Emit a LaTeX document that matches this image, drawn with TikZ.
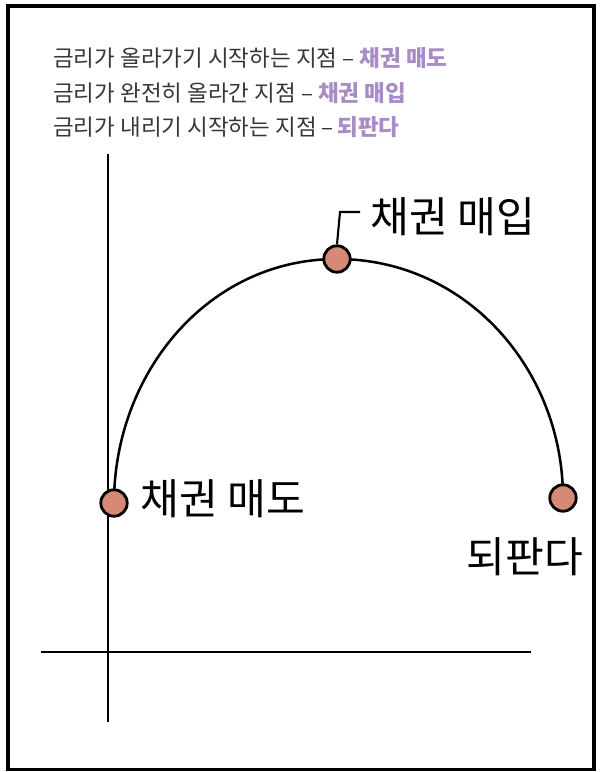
\documentclass[tikz,border=0pt]{standalone}
\usepackage{fontspec}
\usepackage{tikz}
\usetikzlibrary{positioning}
\newfontfamily\kr{Noto Sans CJK KR}
\definecolor{inkgray}{RGB}{55,55,55}
\definecolor{lavender}{RGB}{168,140,198}
\definecolor{salmon}{RGB}{214,138,118}
\newcommand{\hl}[1]{{\color{lavender}\bfseries #1}}
\tikzset{
  frame/.style={draw=black,line width=2.6pt},
  axis/.style={draw=black,line width=1.8pt},
  curve/.style={draw=black,line width=1.8pt},
  leader/.style={draw=black,line width=1.5pt},
  dot/.style={circle,draw=black,line width=2pt,fill=salmon,minimum size=6.6mm,inner sep=0pt},
  hand/.style={font=\kr\fontsize{30}{33}\selectfont,inner sep=0pt},
  note/.style={font=\kr\fontsize{16}{19}\selectfont,text=inkgray,anchor=west,inner sep=0pt}
}

\begin{document}
\begin{tikzpicture}[node distance=0.35cm]
  \useasboundingbox (0,0) rectangle (15,19.3);
  \draw[frame] (0.2,0.06) rectangle (14.85,19.15);

  % legend lines
  \node[note] (rise) at (1.325,17.85) {금리가 올라가기 시작하는 지점 – \hl{채권 매도}};
  \node[note] (peak) at (1.325,16.975) {금리가 완전히 올라간 지점 – \hl{채권 매입}};
  \node[note] (fall) at (1.325,16.125) {금리가 내리기 시작하는 지점 –\,\hl{되판다}};

  % axes
  \coordinate (ytop) at (2.7,15.45);
  \coordinate (ybot) at (2.7,1.25);
  \coordinate (xleft) at (1.025,3.0);
  \coordinate (xright) at (13.275,3.0);
  \draw[axis] (ytop) -- (ybot);
  \draw[axis] (xleft) -- (xright);

  % rate curve
  \coordinate (sellpt) at (2.85,6.725);
  \coordinate (buypt) at (8.425,12.825);
  \coordinate (resalept) at (14.075,6.85);
  \draw[curve] (sellpt) to[out=90,in=180] (buypt) to[out=0,in=90] (resalept);

  \node[dot] (sell) at (sellpt) {};
  \node[dot] (buy) at (buypt) {};
  \node[dot] (resale) at (resalept) {};

  \coordinate (bend) at (8.5,14.0);
  \coordinate (tick) at (9.0,14.0);
  \draw[leader] (buy.north) -- (bend) -- (tick);

  \node[hand,right=0.25cm of tick,yshift=-3pt] (buylbl) {채권 매입};
  \node[hand,right=0.3cm of sell,yshift=3pt] (selllbl) {채권 매도};
  \node[hand] (resalelbl) at (13.125,5.375) {되판다};
\end{tikzpicture}
\end{document}
